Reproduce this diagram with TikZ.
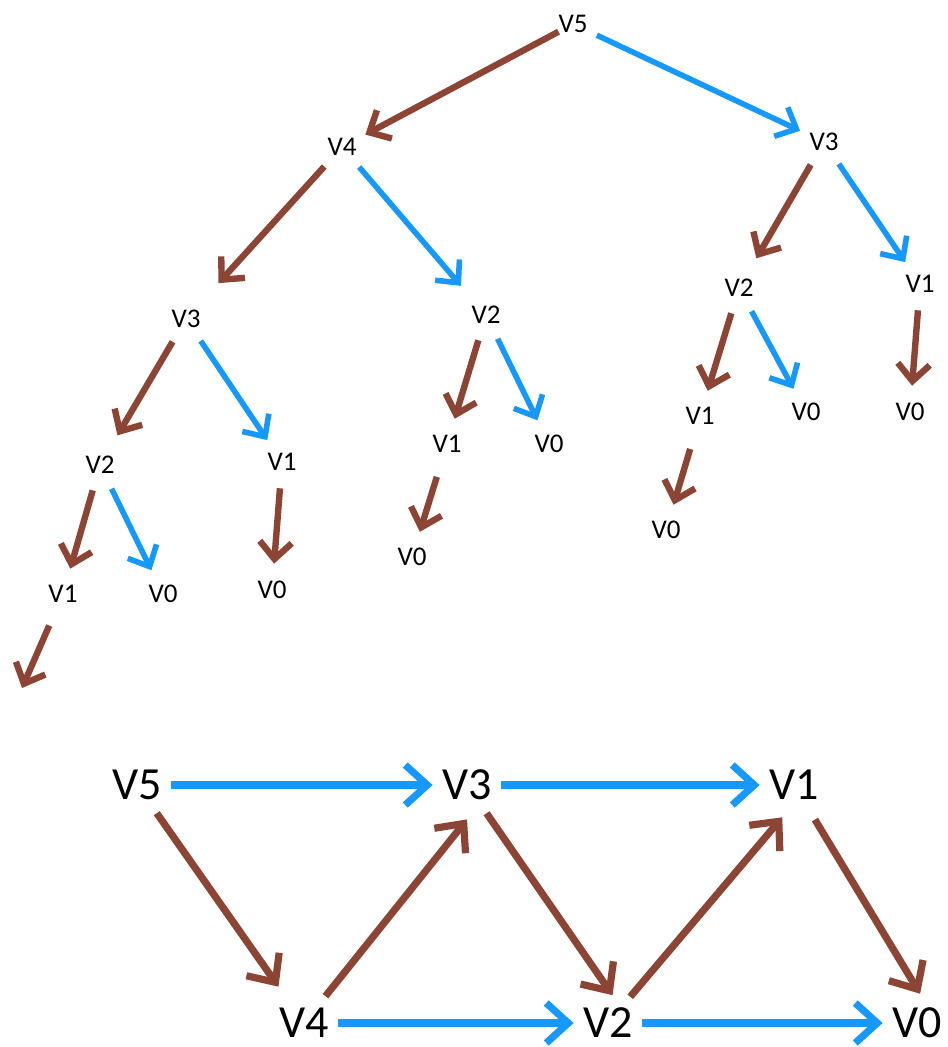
\documentclass[tikz,border=0pt]{standalone}
\usepackage{fontspec}
\setmainfont{Carlito}
\usetikzlibrary{arrows.meta}
\definecolor{edgebrown}{RGB}{140,68,52}
\definecolor{edgeblue}{RGB}{22,152,255}

\begin{document}
\begin{tikzpicture}[
    x=0.5pt, y=-0.5pt,
    vnode/.style={circle, inner sep=0pt, minimum size=26pt,
        font=\fontsize{13.5}{14}\selectfont},
    vbig/.style={circle, inner sep=0pt, minimum size=34pt,
        font=\fontsize{23}{24}\selectfont},
    tbrown/.style={draw=edgebrown, line width=3.2pt,
        -{Straight Barb[length=8.5pt, width=16pt]}},
    tblue/.style={draw=edgeblue, line width=2.8pt,
        -{Straight Barb[length=8.5pt, width=16pt]}},
    dbrown/.style={draw=edgebrown, line width=3.6pt,
        -{Straight Barb[length=11pt, width=20pt]}},
    dblue/.style={draw=edgeblue, line width=3.6pt,
        -{Straight Barb[length=11pt, width=20pt]}}
]
\useasboundingbox (0,0) rectangle (947,1047);

% recursion tree
\node[vnode] (t5) at (573,24) {V5};
\node[vnode] (t54) at (342,147) {V4};
\node[vnode] (t53) at (824,142) {V3};
\node[vnode] (t543) at (186,319) {V3};
\node[vnode] (t542) at (486,315) {V2};
\node[vnode] (t532) at (739,288) {V2};
\node[vnode] (t531) at (920,284) {V1};
\node[vnode] (t5432) at (100,465) {V2};
\node[vnode] (t5431) at (282,462) {V1};
\node[vnode] (t5421) at (447,444) {V1};
\node[vnode] (t5420) at (549,444) {V0};
\node[vnode] (t5321) at (700,416) {V1};
\node[vnode] (t5320) at (806,412) {V0};
\node[vnode] (t5310) at (910,412) {V0};
\node[vnode] (t54321) at (63,594) {V1};
\node[vnode] (t54320) at (163,594) {V0};
\node[vnode] (t54310) at (272,590) {V0};
\node[vnode] (t54210) at (412,557) {V0};
\node[vnode] (t53210) at (666,530) {V0};
\coordinate (t543210) at (22,688);

\draw[tbrown, shorten <=-5pt] (t5) -- (t54);
\draw[tblue] (t5) -- (t53);
\draw[tbrown, shorten >=11pt] (t54) -- (t543);
\draw[tblue, shorten >=6pt] (t54) -- (t542);
\draw[tbrown, shorten >=4pt] (t53) -- (t532);
\draw[tblue] (t53) -- (t531);
\draw[tbrown, shorten >=4pt] (t543) -- (t5432);
\draw[tblue] (t543) -- (t5431);
\draw[tbrown] (t542) -- (t5421);
\draw[tblue] (t542) -- (t5420);
\draw[tbrown] (t532) -- (t5321);
\draw[tblue] (t532) -- (t5320);
\draw[tbrown] (t531) -- (t5310);
\draw[tbrown] (t5432) -- (t54321);
\draw[tblue] (t5432) -- (t54320);
\draw[tbrown] (t5431) -- (t54310);
\draw[tbrown, shorten <=4pt] (t5421) -- (t54210);
\draw[tbrown, shorten <=4pt] (t5321) -- (t53210);
\draw[tbrown, shorten <=4pt] (t54321) -- (t543210);

% memoised graph
\node[vbig] (d5) at (137,785) {V5};
\node[vbig] (d3) at (467,785) {V3};
\node[vbig] (d1) at (794,785) {V1};
\node[vbig] (d4) at (304,1023) {V4};
\node[vbig] (d2) at (608,1023) {V2};
\node[vbig] (d0) at (917,1023) {V0};

\draw[dblue] (d5) -- (d3);
\draw[dblue] (d3) -- (d1);
\draw[dblue] (d4) -- (d2);
\draw[dblue] (d2) -- (d0);
\draw[dbrown, shorten >=5pt] (d5) -- (d4);
\draw[dbrown] (d4) -- (d3.south);
\draw[dbrown, shorten >=-4pt] (d3) -- (d2.north);
\draw[dbrown] (d2) -- (d1.250);
\draw[dbrown, shorten <=3pt, shorten >=-3pt] (d1) -- (d0.north);
\end{tikzpicture}
\end{document}
